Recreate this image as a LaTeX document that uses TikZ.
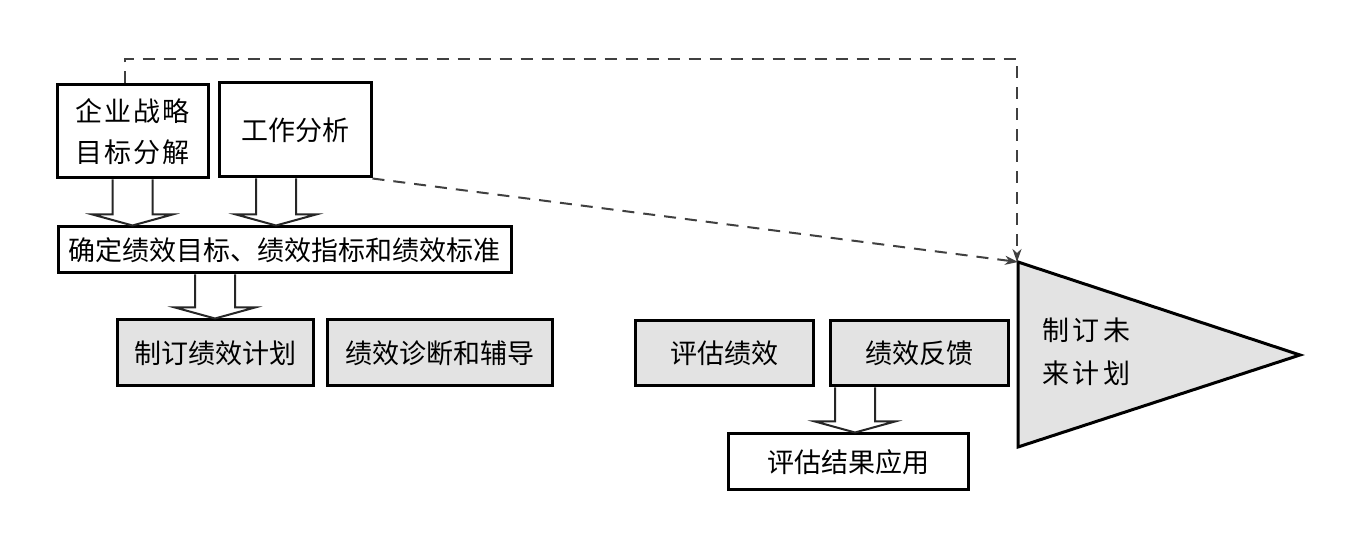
\documentclass[tikz,border=0pt]{standalone}
\usepackage{fontspec}
\setmainfont{Noto Sans CJK SC}
\usetikzlibrary{calc,arrows.meta}
\tikzset{
  box/.style={draw=black,line width=3pt,fill=white,inner sep=0pt,font=\fontsize{27}{41}\selectfont},
  graybox/.style={box,fill=black!11},
  barrowstyle/.style={draw=black!85,line width=2pt,fill=white,line join=miter},
  dashline/.style={draw=black!75,line width=2pt,dash pattern=on 12pt off 9pt,-{Stealth[length=13pt,width=9pt,inset=4pt]}},
}
\newcommand{\blockarrow}[2]{%
  \draw[barrowstyle] ($(#1)+(-20,0)$) -- ($(#2)+(-20,11)$) -- ($(#2)+(-40,11)$) -- (#2) -- ($(#2)+(40,11)$) -- ($(#2)+(20,11)$) -- ($(#1)+(20,0)$);}
\begin{document}
\begin{tikzpicture}[x=1pt,y=1pt]
\useasboundingbox (0,0) rectangle (1359,551);
% nodes
\node[box,minimum width=151pt,minimum height=93pt,align=center] (b1) at (132.5,419.5) {\addfontfeature{LetterSpace=7}企业战略\\\addfontfeature{LetterSpace=7}目标分解};
\node[box,minimum width=152pt,minimum height=94pt] (b2) at (295,421) {工作分析};
\node[box,minimum width=453pt,minimum height=46pt] (b3) at (284.5,301) {确定绩效目标、绩效指标和绩效标准};
\node[graybox,minimum width=196pt,minimum height=66pt] (b4) at (215,198) {制订绩效计划};
\node[graybox,minimum width=225pt,minimum height=66pt] (b5) at (439.5,198) {绩效诊断和辅导};
\node[graybox,minimum width=178pt,minimum height=65pt] (b6) at (724,197.5) {评估绩效};
\node[graybox,minimum width=178pt,minimum height=65pt] (b7) at (919,197.5) {绩效反馈};
\node[box,minimum width=240pt,minimum height=56pt] (b8) at (848,89) {评估结果应用};
% triangle
\coordinate (t1) at (1018,289);
\coordinate (t2) at (1018,104);
\coordinate (t3) at (1300,196);
\draw[line width=3pt,fill=black!11,line join=miter] (t1) -- (t3) -- (t2) -- cycle;
\node[font=\fontsize{27}{43}\selectfont,align=left,anchor=west,inner sep=0pt] (tt) at (1042,199.5) {\addfontfeature{LetterSpace=13}制订未\\\addfontfeature{LetterSpace=13}来计划};
% block arrows
\coordinate (a1) at (b1.south |- b3.north);
\blockarrow{b1.south}{a1}
\coordinate (s2) at ([xshift=-19pt]b2.south);
\coordinate (a2) at (s2 |- b3.north);
\blockarrow{s2}{a2}
\coordinate (s3) at (b4.north |- b3.south);
\blockarrow{s3}{b4.north}
\coordinate (s4) at ([xshift=-64pt]b7.south);
\coordinate (a4) at (s4 |- b8.north);
\blockarrow{s4}{a4}
% dashed connectors
\coordinate (c1) at (1017,492);
\draw[dashline] ([xshift=-7.5pt]b1.north) |- (c1) -- ([xshift=-1pt]t1);
\draw[dashline] (b2.south east) -- (t1);
\end{tikzpicture}
\end{document}
